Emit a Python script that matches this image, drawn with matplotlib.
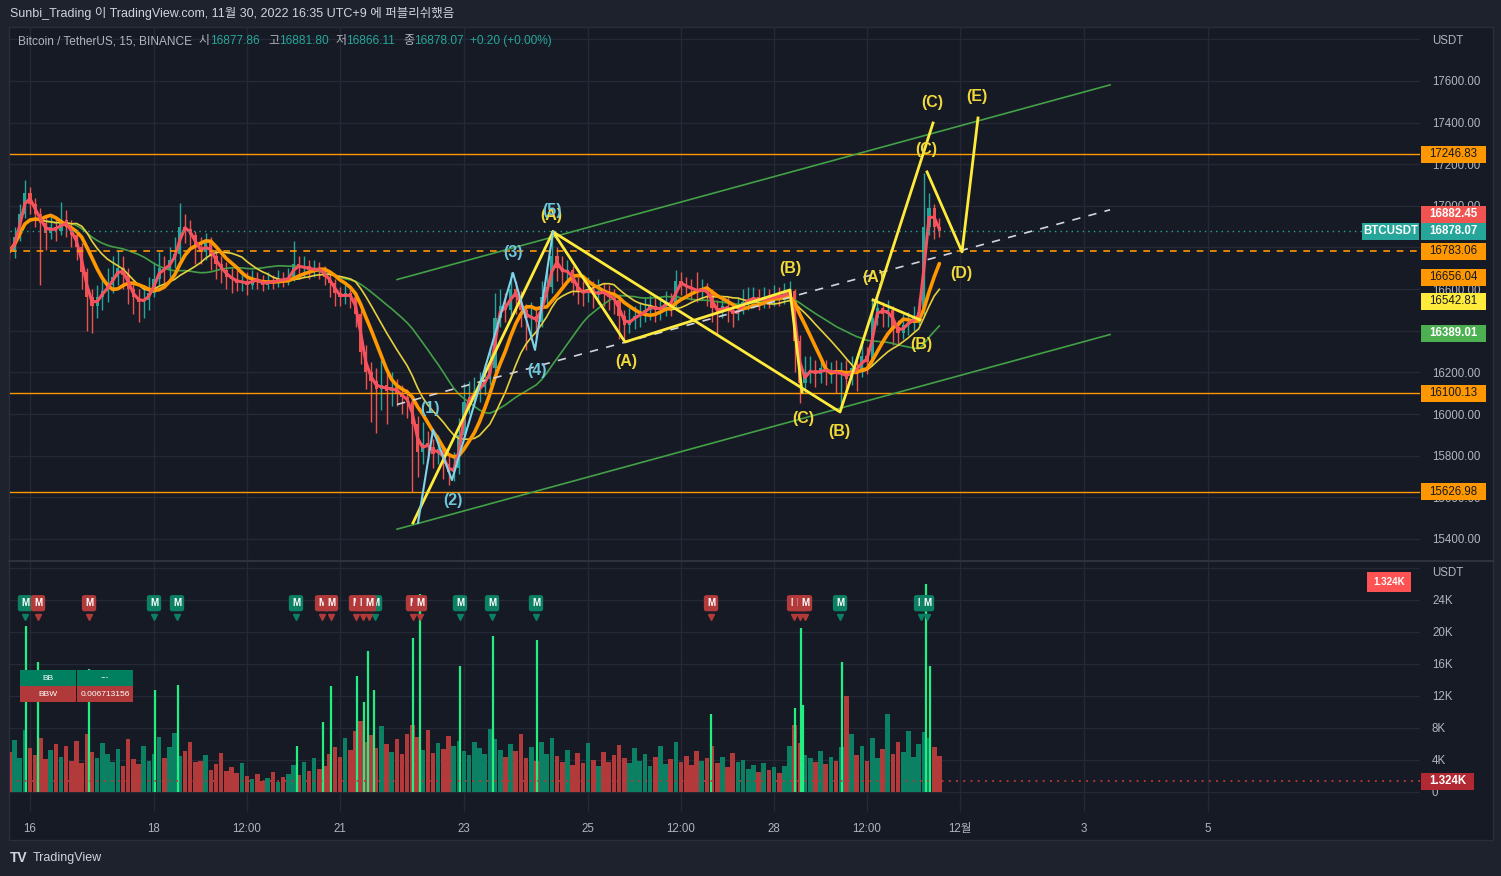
import numpy as np
import pandas as pd
import matplotlib
matplotlib.use("Agg")
import matplotlib.pyplot as plt
from matplotlib.patches import Rectangle
from matplotlib.lines import Line2D

plt.rcParams['font.family'] = ['Liberation Sans', 'Noto Sans CJK KR', 'DejaVu Sans']

W, H = 1501, 876

# ---------------- data ----------------
# 2-hour bars, first bar = Nov 15 16:00 (x axis in day-of-month units)
t_first = 15 + 16 / 24
open_first = 16800
close = [16780, 16850, 16960, 17060, 17010, 16960, 16920, 16870, 16900, 16880,
         16930, 16900, 16860, 16800, 16680, 16560, 16520, 16560, 16590, 16620,
         16660, 16700, 16670, 16600, 16560, 16540, 16550, 16580, 16650, 16700,
         16690, 16740, 16770, 16900, 16890, 16860, 16800, 16780, 16820, 16760,
         16720, 16690, 16660, 16650, 16630, 16640, 16620, 16650, 16640, 16620,
         16640, 16630, 16650, 16640, 16660, 16720, 16700, 16710, 16690, 16700,
         16690, 16660, 16630, 16580, 16560, 16580, 16560, 16480, 16300, 16200,
         16160, 16120, 16140, 16110, 16130, 16100, 16080, 16060, 15950, 15820,
         15860, 15840, 15810, 15830, 15760, 15720, 15740, 15900, 16060, 16080,
         16110, 16130, 16170, 16220, 16460, 16520, 16500, 16600, 16560, 16500,
         16460, 16470, 16440, 16560, 16610, 16760, 16700, 16680, 16690, 16630,
         16590, 16580, 16600, 16570, 16590, 16580, 16560, 16550, 16470, 16430,
         16450, 16470, 16480, 16500, 16520, 16500, 16510, 16540, 16520, 16640,
         16620, 16610, 16600, 16590, 16600, 16580, 16510, 16490, 16520, 16500,
         16480, 16500, 16540, 16550, 16560, 16540, 16560, 16550, 16570, 16560,
         16580, 16590, 16350, 16150, 16200, 16210, 16190, 16220, 16200, 16210,
         16190, 16200, 16170, 16220, 16210, 16280, 16250, 16460, 16510, 16480,
         16500, 16420, 16390, 16430, 16440, 16460, 16490, 16900, 16990, 16900,
         16878]
high = [16850, 16900, 17010, 17125, 17090, 17040, 16990, 16950, 16960, 16940,
        17020, 16980, 16930, 16880, 16820, 16700, 16600, 16620, 16650, 16700,
        16760, 16790, 16760, 16700, 16640, 16600, 16620, 16660, 16730, 16780,
        16760, 16800, 16850, 17015, 16960, 16930, 16880, 16850, 16870, 16850,
        16790, 16760, 16730, 16700, 16690, 16690, 16680, 16690, 16680, 16670,
        16680, 16670, 16690, 16680, 16700, 16830, 16760, 16760, 16740, 16740,
        16730, 16710, 16690, 16650, 16610, 16620, 16610, 16580, 16500, 16330,
        16250, 16220, 16260, 16200, 16200, 16170, 16140, 16120, 16090, 15990,
        15960, 15920, 15880, 15900, 15850, 15800, 15820, 15980, 16150, 16160,
        16180, 16200, 16240, 16320, 16580, 16600, 16580, 16680, 16640, 16590,
        16530, 16540, 16520, 16640, 16700, 16872, 16800, 16760, 16740, 16710,
        16660, 16640, 16660, 16640, 16650, 16630, 16620, 16600, 16570, 16500,
        16510, 16520, 16540, 16560, 16570, 16560, 16560, 16590, 16580, 16690,
        16680, 16660, 16650, 16680, 16650, 16630, 16600, 16550, 16570, 16560,
        16540, 16560, 16600, 16610, 16610, 16600, 16610, 16600, 16620, 16610,
        16630, 16640, 16600, 16380, 16280, 16280, 16260, 16270, 16260, 16250,
        16260, 16250, 16260, 16280, 16260, 16340, 16320, 16550, 16560, 16540,
        16550, 16520, 16450, 16480, 16490, 16520, 16560, 17159, 17060, 17010,
        16940]
low = [16740, 16750, 16830, 16940, 16960, 16900, 16620, 16790, 16840, 16830,
       16860, 16850, 16800, 16740, 16600, 16400, 16390, 16460, 16500, 16540,
       16580, 16620, 16600, 16530, 16480, 16440, 16460, 16500, 16560, 16620,
       16630, 16660, 16700, 16740, 16820, 16790, 16720, 16720, 16740, 16690,
       16650, 16630, 16600, 16580, 16590, 16590, 16570, 16600, 16600, 16590,
       16600, 16600, 16610, 16610, 16620, 16640, 16650, 16660, 16650, 16660,
       16650, 16620, 16560, 16520, 16520, 16530, 16510, 16420, 16240, 16120,
       15960, 15910, 16020, 15950, 16040, 16040, 16000, 15980, 15627, 15700,
       15760, 15780, 15740, 15760, 15690, 15660, 15680, 15710, 15880, 16000,
       16040, 16060, 16090, 16140, 16200, 16420, 16440, 16470, 16480, 16420,
       16310, 16380, 16360, 16420, 16530, 16580, 16640, 16620, 16630, 16570,
       16530, 16520, 16540, 16510, 16530, 16520, 16500, 16480, 16360, 16358,
       16390, 16410, 16420, 16440, 16450, 16440, 16450, 16470, 16470, 16500,
       16570, 16560, 16550, 16540, 16550, 16520, 16440, 16380, 16460, 16440,
       16420, 16450, 16480, 16500, 16510, 16500, 16510, 16510, 16520, 16520,
       16530, 16540, 16200, 16055, 16100, 16150, 16130, 16150, 16140, 16150,
       16100, 16022, 16090, 16140, 16110, 16180, 16190, 16230, 16430, 16420,
       16420, 16330, 16330, 16360, 16380, 16400, 16430, 16470, 16860, 16840,
       16850]
# volume per bar, thousands of USDT
vol_k = [5.0, 6.5, 4.2, 7.8, 5.5, 4.6, 6.8, 4.1, 5.2, 6.0,
         4.4, 5.8, 3.9, 6.4, 3.6, 7.2, 5.0, 4.3, 6.1, 4.7,
         3.8, 5.4, 3.2, 6.6, 4.1, 3.5, 5.7, 3.9,
         4.8, 6.9, 4.3, 5.6, 7.4, 4.5, 5.1, 6.2, 3.7,
         3.9, 4.6, 2.8, 3.5, 4.9, 2.6, 3.1, 2.4, 3.6,
         2.0, 1.6, 2.3, 1.4, 1.8, 2.5, 1.3, 1.9, 2.2,
         3.4, 2.1, 3.8, 2.6, 4.2, 2.9, 3.3, 4.8,
         5.6, 4.4, 6.8, 5.2, 7.6, 8.9, 6.3, 7.1, 5.5, 8.2, 6.0, 5.0, 6.6, 4.7, 7.3, 8.4,
         6.9, 5.3, 7.7, 4.9, 6.1, 5.4, 7.0, 5.8, 6.4, 5.1, 4.6, 6.2,
         5.5, 4.8, 7.9, 6.6, 5.2, 4.4, 6.0, 5.1, 7.2, 4.2, 5.6, 3.9, 6.3, 4.7,
         6.7, 4.5, 3.8, 5.3, 3.4, 4.9, 3.6, 6.1, 4.0, 3.3, 5.0, 3.7, 4.6, 5.9,
         4.3, 3.6, 5.5, 3.9, 4.8, 3.2, 4.4, 5.8, 3.5, 4.1, 6.2, 3.8, 4.5, 3.4, 5.1, 3.9,
         4.2, 5.7, 3.6, 4.4, 3.1, 4.9, 3.7, 4.0,
         2.9, 3.4, 2.5, 3.6, 2.7, 3.1, 2.4, 3.3,
         5.8, 8.4, 6.1, 4.6,
         4.2, 3.7, 5.1, 3.5, 4.4, 3.9,
         5.6, 12.0, 7.2, 4.6, 5.8, 3.9, 6.7, 4.3, 5.4, 9.8, 4.8, 6.3, 5.0, 7.6, 4.4,
         6.0, 7.5, 6.8, 5.6, 4.5]
# high-volume bars (bright)
spike_t = [15.935, 16.129, 16.952, 18.016, 18.387, 20.306, 20.726, 20.855, 21.274, 21.387,
           21.452, 21.548, 22.177, 22.29, 22.935, 23.468, 24.177, 26.984, 28.339, 28.435,
           28.468, 29.097, 30.452, 30.516]
spike_k = [20.8, 16.3, 15.4, 12.7, 13.4, 5.7, 8.8, 13.3, 14.5, 11.3,
           17.6, 12.8, 19.3, 24.7, 15.7, 19.5, 19.0, 9.7, 10.5, 20.5,
           10.9, 16.3, 26.0, 15.8]
marker_t = [21.565, 15.919, 16.129, 16.952, 18.0, 18.371, 20.29, 20.71, 20.855, 21.258,
            21.371, 21.468, 22.177, 22.29, 22.935, 23.452, 24.161, 26.984, 28.323, 28.419,
            28.5, 29.065, 30.371, 30.468]
marker_up = [True, True, False, False, True, True, True, False, False, False,
             False, False, False, False, True, True, True, False, False, False,
             False, True, True, True]

# chart drawings
levels_solid = [17246.83, 16100.13, 15626.98]
level_dashed = 16783.06
last_price = 16878.07
last_volume_k = 1.324
chan_t = [21.92, 33.42]
chan_upper = [16646, 17581]
chan_lower = [15447, 16382]
trend_mid = [16046, 16981]
cyan_t = [22.258, 22.5, 22.806, 23.79, 24.145, 24.435]
cyan_p = [15477, 15924, 15683, 16678, 16308, 16875]
yellow_paths = [
    ([22.177, 24.435], [15477, 16875]),
    ([24.435, 25.597, 28.258, 28.452], [16875, 16346, 16596, 16106]),
    ([24.435, 29.065, 30.565], [16875, 16010, 17398]),
    ([29.597, 30.355], [16548, 16452]),
    ([30.468, 31.032, 31.29], [17163, 16779, 17422]),
]
cyan_labels = [("(1)", 22.45, 16029), ("(2)", 22.82, 15587), ("(3)", 23.79, 16774),
               ("(4)", 24.18, 16207), ("(5)", 24.42, 16976)]
yellow_labels = [("(A)", 24.40, 16956), ("(A)", 25.61, 16250), ("(B)", 28.26, 16697),
                 ("(C)", 28.47, 15981), ("(B)", 29.05, 15914), ("(A)", 29.60, 16654),
                 ("(B)", 30.37, 16332), ("(C)", 30.45, 17269), ("(C)", 30.56, 17494),
                 ("(D)", 31.02, 16673), ("(E)", 31.27, 17523)]

time_ticks = [16, 18, 19.5, 21, 23, 25, 26.5, 28, 29.5, 31, 33, 35]
time_labels = ["16", "18", "12:00", "21", "23", "25", "12:00", "28", "12:00", "12월", "3", "5"]
price_ticks = list(range(15400, 17801, 200))
vol_ticks = list(range(0, 29, 4))

# ---------------- colours ----------------
FRAME = "#1e222d"
BG = "#161a25"
GRID = "#252935"
TXT = "#b2b5be"
UP = "#26a69a"
DOWN = "#ef5350"
ORANGE = "#ff9800"
YEL = "#ffeb3b"
CYAN = "#7fd3ea"

close = np.array(close, float)
high = np.array(high, float)
low = np.array(low, float)
opens = np.concatenate([[open_first], close[:-1]])
n = len(close)
t = t_first + np.arange(n) / 12.0
up = close >= opens

s = pd.Series(close)
ma_red = s.rolling(2, min_periods=1).mean()
ma_orange = s.rolling(7, min_periods=1).mean()
ma_yellow = s.rolling(13, min_periods=1).mean()
ma_green = s.rolling(25, min_periods=1).mean()

fig = plt.figure(figsize=(W / 100, H / 100), dpi=100)
fig.patch.set_facecolor(FRAME)


def fx(x):
    return x / W


def fy(y):
    return 1 - y / H


fig.add_artist(Rectangle((fx(9), fy(840)), fx(1493) - fx(9), fy(27) - fy(840),
                         transform=fig.transFigure, fc=BG, ec="#2a2e39", lw=1, zorder=-5))

ax = fig.add_axes([fx(10), fy(560), fx(1420) - fx(10), fy(27) - fy(560)])
axv = fig.add_axes([fx(10), fy(812), fx(1420) - fx(10), fy(561) - fy(812)])
xlim = (15.6774, 38.419)
for a in (ax, axv):
    a.set_facecolor("none")
    for sp in a.spines.values():
        sp.set_visible(False)
    a.set_xlim(*xlim)
    a.set_xticks(time_ticks)
    a.grid(True, color=GRID, lw=1)
    a.set_axisbelow(True)
    a.yaxis.tick_right()

# ---------------- price pane ----------------
ax.set_ylim(15299, 17859)
ax.set_yticks(price_ticks)
ax.set_yticklabels([f"{v:.2f}" if v < 17800 else "" for v in price_ticks])
ax.tick_params(axis="y", length=0, pad=8.6, labelsize=8.3, labelcolor=TXT)
ax.tick_params(axis="x", length=0, labelbottom=False)

ccol = np.where(up, UP, DOWN)
ax.vlines(t, low, high, colors=ccol, lw=1, zorder=2)
ax.bar(t, np.maximum(np.abs(close - opens), 5), bottom=np.minimum(opens, close),
       width=0.6 / 12, color=ccol, zorder=2)

ax.plot(t, ma_green, color="#43a047", lw=1.2, zorder=3)
ax.plot(t, ma_yellow, color="#e6d03c", lw=1.2, zorder=3)
ax.plot(t, ma_orange, color=ORANGE, lw=2.6, zorder=3, solid_capstyle="round")
ax.plot(t, ma_red, color="#f7525f", lw=2.2, zorder=3, solid_capstyle="round")

for lv in levels_solid:
    ax.axhline(lv, color=ORANGE, lw=1, zorder=4)
ax.axhline(level_dashed, color=ORANGE, lw=1.2, ls=(0, (4, 4)), zorder=4)
ax.axhline(last_price, color=UP, lw=1, ls=(0, (1, 3)), zorder=4)

ax.plot(chan_t, chan_upper, color="#43a047", lw=1.2, zorder=4)
ax.plot(chan_t, chan_lower, color="#43a047", lw=1.2, zorder=4)
ax.plot(chan_t, trend_mid, color="#d1d4dc", lw=1.2, ls=(0, (5, 5)), zorder=4)

for xs, ps in yellow_paths:
    ax.plot(xs, ps, color=YEL, lw=2, zorder=5)
ax.plot(cyan_t, cyan_p, color=CYAN, lw=1.5, zorder=5)

for lab, lt, lp in yellow_labels:
    ax.text(lt, lp, lab, color="#f2d93a", fontsize=11.5, fontweight="bold",
            ha="center", va="center", zorder=6)
for lab, lt, lp in cyan_labels:
    ax.text(lt, lp, lab, color="#6ec6da", fontsize=11.5, fontweight="bold",
            ha="center", va="center", zorder=6)

# ---------------- volume pane ----------------
axv.set_ylim(-2.5, 28.875)
axv.set_yticks(vol_ticks)
axv.set_yticklabels(["0" if v == 0 else (f"{v}K" if v < 28 else "") for v in vol_ticks])
axv.tick_params(axis="y", length=0, pad=8.6, labelsize=8.3, labelcolor=TXT)
axv.set_xticklabels(time_labels)
axv.tick_params(axis="x", length=0, pad=8, labelsize=8.3, labelcolor=TXT)

vcol = np.where(up, "#0b8062", "#b23a3a")
axv.bar(t, vol_k, width=0.9 / 12, color=vcol, zorder=2)
axv.vlines(spike_t, 0, spike_k, colors="#22ee82", lw=1.6, zorder=3)
axv.axhline(last_volume_k, color="#c0393b", lw=1.3, ls=(0, (1, 3)), zorder=4)

for mt, mu in zip(marker_t, marker_up):
    c = "#0b8062" if mu else "#b23a3a"
    axv.plot(mt, 21.9, marker="v", ms=4, color=c, zorder=5)
    axv.text(mt, 23.6, "M", color="white", fontsize=7, fontweight="bold", ha="center",
             va="center", zorder=6,
             bbox=dict(boxstyle="round,pad=0.32,rounding_size=0.25", fc=c, ec="none"))

# ---------------- figure-level decorations ----------------
fig.add_artist(Line2D([fx(9), fx(1493)], [fy(560.5), fy(560.5)], transform=fig.transFigure,
                      color="#2e323d", lw=1.5))


def py(p):
    return H - ax.transData.transform((xlim[0], p))[1]


def vy(v):
    return H - axv.transData.transform((xlim[0], v))[1]


def box(x0, x1, yc, h, txt, bg, fg, bold=False, size=8.3):
    fig.add_artist(Rectangle((fx(x0), fy(yc + h / 2)), fx(x1) - fx(x0), h / H,
                             transform=fig.transFigure, fc=bg, ec="none", zorder=8))
    fig.text(fx((x0 + x1) / 2), fy(yc), txt, color=fg, fontsize=size, ha="center",
             va="center", fontweight="bold" if bold else "normal", zorder=9)


DARK = "#131722"
axis_boxes = [
    (17246.83, 0, ORANGE, DARK, False),
    (16882.45, -16, "#f05350", "white", True),
    (16878.07, 0, UP, "white", True),
    (16783.06, 0, ORANGE, DARK, False),
    (16656.04, 0, ORANGE, DARK, False),
    (16542.81, 0, YEL, DARK, False),
    (16389.01, 0, "#4caf50", "white", True),
    (16100.13, 0, ORANGE, DARK, False),
    (15626.98, 0, ORANGE, DARK, False),
]
for val, off, bg, fg, bold in axis_boxes:
    box(1421, 1486, py(val) + off, 17, f"{val:.2f}", bg, fg, bold)
box(1362, 1419, py(last_price), 17, "BTCUSDT", UP, "white", True)
box(1421, 1474, vy(last_volume_k), 17, f"{last_volume_k:.3f}K", "#b22833", "white", True)
box(1367, 1411, 582, 20, f"{last_volume_k:.3f}K", "#ff5252", "white", True, 7)

fig.text(fx(1432), fy(41), "USDT", color=TXT, fontsize=8.3, va="center")
fig.text(fx(1432), fy(573), "USDT", color=TXT, fontsize=8.3, va="center")

# header
fig.text(fx(10), fy(14), "Sunbi_Trading 이 TradingView.com, 11월 30, 2022 16:35 UTC+9 에 퍼블리쉬했음",
         color="#d1d4dc", fontsize=9, va="center")
legend_parts = [(18, "Bitcoin / TetherUS, 15, BINANCE", TXT), (199, "시", TXT), (210, "16877.86", UP),
                (268, "고", TXT), (279, "16881.80", UP), (336, "저", TXT), (346, "16866.11", UP),
                (403, "종", TXT), (414, "16878.07", UP), (470, "+0.20 (+0.00%)", UP)]
for lx, txt, col in legend_parts:
    fig.text(fx(lx), fy(41), txt, color=col, fontsize=8.6, va="center")

# BB table
bb_cells = [(20, 76, 678, "BB", "#00805f"), (77, 133, 678, "---", "#00805f"),
            (20, 76, 694, "BBW", "#b03a3a"), (77, 133, 694, "0.006713156", "#b03a3a")]
for x0, x1, yc, txt, bg in bb_cells:
    box(x0, x1, yc, 15.5, txt, bg, "white", False, 6)

# footer logo
fig.text(fx(10), fy(858), "TV", color="#d1d4dc", fontsize=10, fontweight="bold", va="center")
fig.text(fx(33), fy(858), "TradingView", color="#d1d4dc", fontsize=9, va="center")

fig.savefig("out.png", dpi=100, facecolor=FRAME)
